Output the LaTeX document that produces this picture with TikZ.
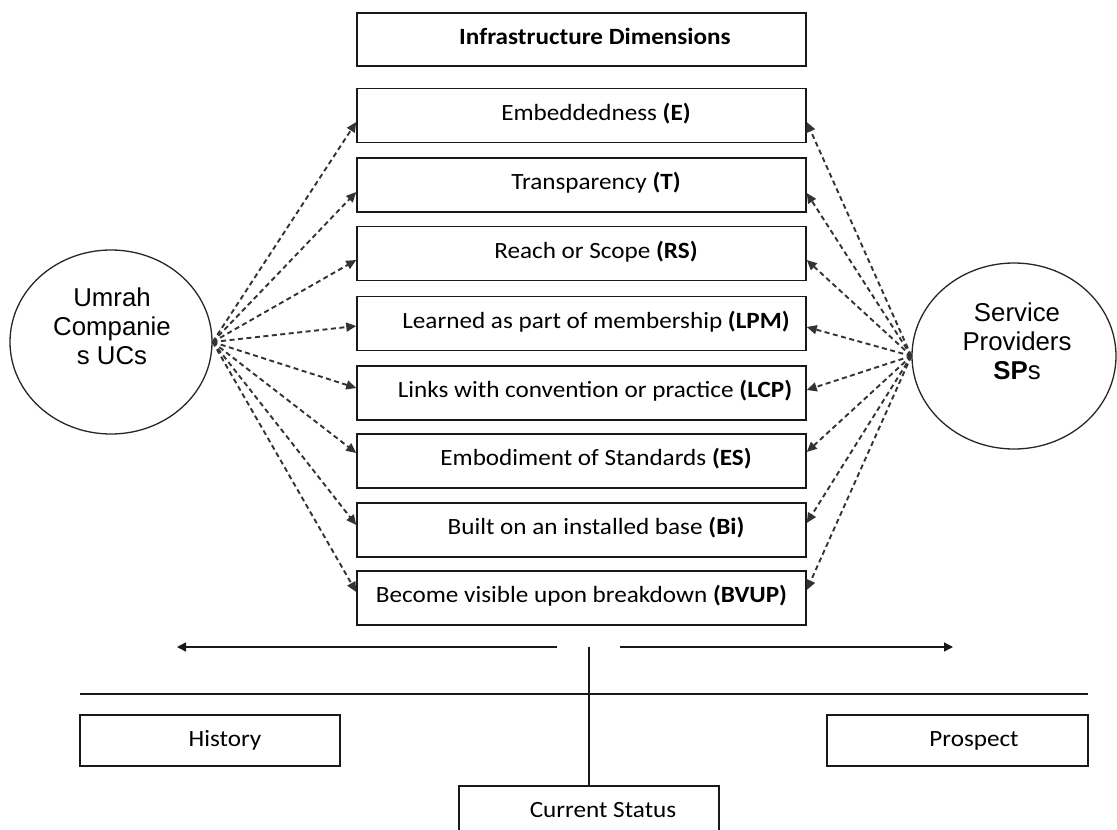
\documentclass[tikz,border=0pt]{standalone}
\usepackage{fontspec}
\setmainfont{Carlito}[FakeStretch=1.08]
\newfontfamily\arialfont{Liberation Sans}
\usetikzlibrary{shapes.geometric,arrows.meta,calc}

\begin{document}
\begin{tikzpicture}[x=1pt,y=-1pt,
  dimbox/.style={draw=black!90,line width=1.5pt,minimum width=449pt,minimum height=54pt,
    inner sep=0pt,text height=15pt,text depth=6pt,font=\fontsize{23.3}{27}\selectfont},
  timebox/.style={draw=black!90,line width=1.5pt,minimum width=260pt,minimum height=51pt,
    inner sep=0pt,text height=16pt,text depth=4pt,font=\fontsize{23.3}{27}\selectfont},
  actor/.style={draw=black!85,line width=1.3pt,ellipse,inner sep=0pt},
  actortext/.style={align=center,font=\arialfont\fontsize{25.8}{29}\selectfont},
  link/.style={draw=black!80,line width=1.9pt,dash pattern=on 5pt off 3.5pt,
    -{Triangle[length=10pt,width=9pt]}},
  timeline/.style={draw=black!90,line width=1.4pt},
  timearrow/.style={timeline,-{Triangle[length=9pt,width=9pt]}}
]
\useasboundingbox (0,0) rectangle (1117,830);

% heading and the eight infrastructure dimensions
\node[dimbox,minimum height=53pt] (head) at (581.5,39.5) {\hspace*{27pt}\textbf{Infrastructure Dimensions}};
\node[dimbox] (e)    at (581.5,115.5) {\hspace*{29pt}Embeddedness \textbf{(E)}};
\node[dimbox] (t)    at (581.5,185)   {\hspace*{29pt}Transparency \textbf{(T)}};
\node[dimbox] (rs)   at (581.5,253.5) {\hspace*{29pt}Reach or Scope \textbf{(RS)}};
\node[dimbox] (lpm)  at (581.5,323.5) {\hspace*{29pt}Learned as part of membership \textbf{(LPM)}};
\node[dimbox] (lcp)  at (581.5,393)   {\hspace*{27pt}Links with convention or practice \textbf{(LCP)}};
\node[dimbox] (es)   at (581.5,461)   {\hspace*{29pt}Embodiment of Standards \textbf{(ES)}};
\node[dimbox] (bi)   at (581.5,530)   {\hspace*{29pt}Built on an installed base \textbf{(Bi)}};
\node[dimbox] (bvup) at (581.5,598)   {Become visible upon breakdown \textbf{(BVUP)}};

% the two groups of actors
\node[actor,minimum width=202pt,minimum height=184pt] (uc) at (111,342) {};
\node[actortext] (uctext) at (112,326) {Umrah\\Companie\\s UCs};
\node[actor,minimum width=204pt,minimum height=186pt] (sp) at (1014,356) {};
\node[actortext] (sptext) at (1017,341) {Service\\Providers\\\textbf{SP}s};

% links from the Umrah companies
\draw[link] (uc.east) -- ($(e.west)+(0,6.5)$);
\draw[link] (uc.east) -- ($(t.west)+(0,7)$);
\draw[link] (uc.east) -- ($(rs.west)+(0,6.5)$);
\draw[link] (uc.east) -- ($(lpm.west)+(0,2.5)$);
\draw[link] (uc.east) -- ($(lcp.west)+(0,-5)$);
\draw[link] (uc.east) -- ($(es.west)+(0,-8)$);
\draw[link] (uc.east) -- ($(bi.west)+(0,-5)$);
\draw[link] (uc.east) -- ($(bvup.west)+(0,-6)$);

% links from the service providers
\draw[link] (sp.west) -- ($(e.east)+(0,6.5)$);
\draw[link] (sp.west) -- ($(t.east)+(0,8)$);
\draw[link] (sp.west) -- ($(rs.east)+(0,6.5)$);
\draw[link] (sp.west) -- ($(lpm.east)+(0,3.5)$);
\draw[link] (sp.west) -- ($(lcp.east)+(0,-3)$);
\draw[link] (sp.west) -- ($(es.east)+(0,-9)$);
\draw[link] (sp.west) -- ($(bi.east)+(0,-7)$);
\draw[link] (sp.west) -- ($(bvup.east)+(0,-8)$);

% time axis
\coordinate (pastfrom) at (557,647);
\coordinate (pastto)   at (177,647);
\coordinate (nextfrom) at (620,647);
\coordinate (nextto)   at (953,647);
\coordinate (nowtop)   at (589,647);
\coordinate (axisl)    at (80,694);
\coordinate (axisr)    at (1088,694);
\draw[timearrow] (pastfrom) -- (pastto);
\draw[timearrow] (nextfrom) -- (nextto);
\draw[timeline] (axisl) -- (axisr);

\node[timebox] (history)  at (210,740.5)  {\hspace*{30pt}History};
\node[timebox,minimum width=261pt] (prospect) at (957.5,740.5) {\hspace*{33pt}Prospect};
\node[timebox] (current)  at (589,811.5)  {\hspace*{28pt}Current Status};
\draw[timeline] (nowtop) -- (current.north);
\end{tikzpicture}
\end{document}
